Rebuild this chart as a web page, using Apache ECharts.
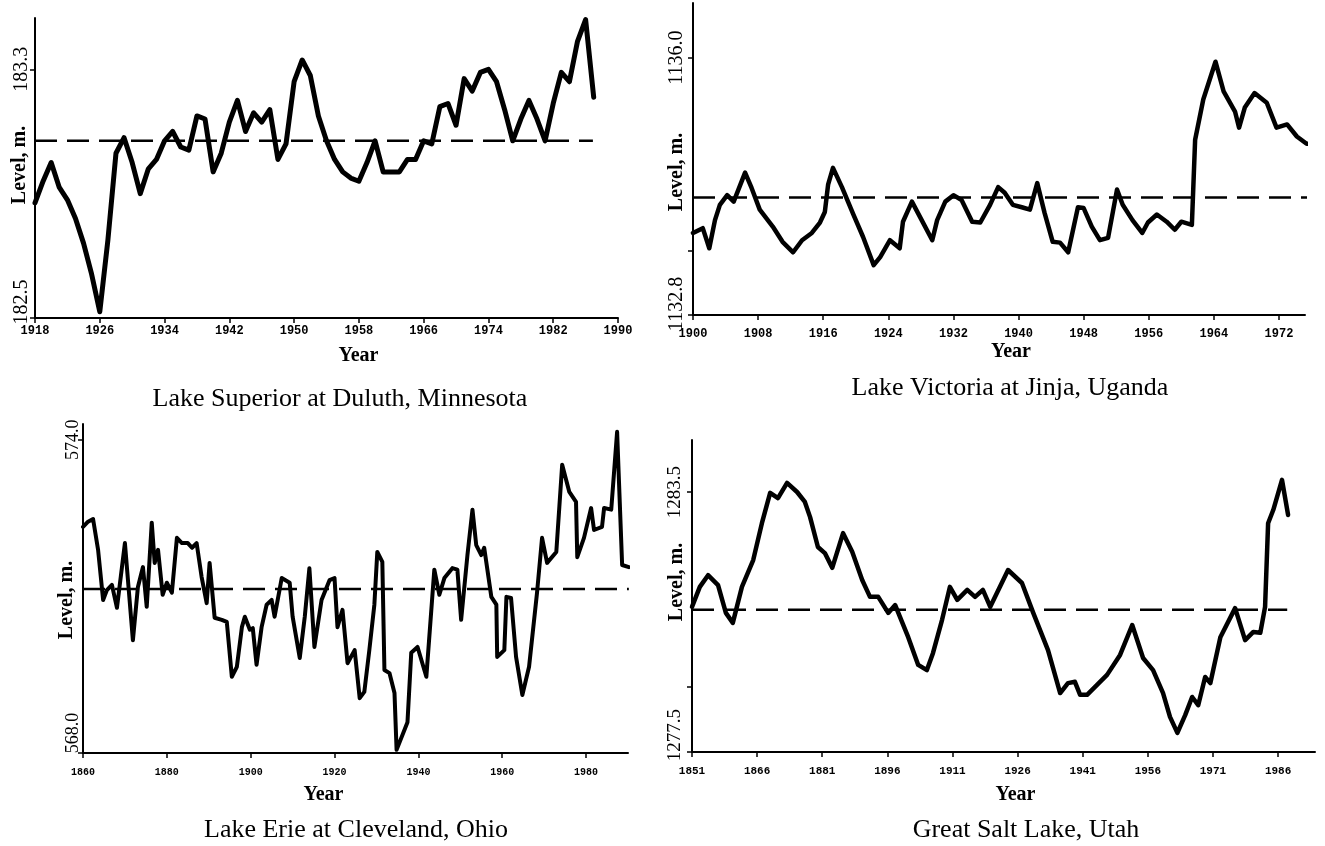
<!DOCTYPE html>
<html><head><meta charset="utf-8">
<script src="https://cdn.jsdelivr.net/npm/echarts@6/dist/echarts.min.js"></script>
<style>html,body{margin:0;padding:0;background:#fff}#c{width:1325px;height:846px}</style>
</head><body><div id="c"></div><script>
// ---------- DATA ----------
// Lake Superior at Duluth (yearly)
const superiorYears = [1918,1919,1920,1921,1922,1923,1924,1925,1926,1927,
  1928,1929,1930,1931,1932,1933,1934,1935,1936,1937,
  1938,1939,1940,1941,1942,1943,1944,1945,1946,1947,
  1948,1949,1950,1951,1952,1953,1954,1955,1956,1957,
  1958,1959,1960,1961,1962,1963,1964,1965,1966,1967,
  1968,1969,1970,1971,1972,1973,1974,1975,1976,1977,
  1978,1979,1980,1981,1982,1983,1984,1985,1986,1987];
const superiorLevels = [182.87,182.94,183.00,182.92,182.88,182.82,182.74,182.64,182.52,182.75,
  183.03,183.08,183.00,182.90,182.98,183.01,183.07,183.10,183.05,183.04,
  183.15,183.14,182.97,183.03,183.13,183.20,183.10,183.16,183.13,183.17,
  183.01,183.06,183.26,183.33,183.28,183.15,183.07,183.01,182.97,182.95,
  182.94,183.00,183.07,182.97,182.97,182.97,183.01,183.01,183.07,183.06,
  183.18,183.19,183.12,183.27,183.23,183.29,183.30,183.26,183.17,183.07,
  183.14,183.20,183.14,183.07,183.19,183.29,183.26,183.39,183.46,183.21];
const superiorMean = 183.07;
const superiorMeanSpan = [1918, 1986.9];
const superiorXTicks = [1918,1926,1934,1942,1950,1958,1966,1974,1982,1990];
const superiorYLabels = [182.5, 183.3];
const superiorYTicks = [182.5, 183.3];

// Lake Victoria at Jinja
const victoriaYears = [1900.0,1901.2,1902.0,1902.7,1903.3,1904.2,1905.0,1906.4,1907.2,1908.2,
  1909.8,1911.0,1912.3,1913.4,1914.6,1915.6,1916.2,1916.6,1917.2,1918.3,
  1919.7,1920.9,1922.2,1923.0,1924.2,1925.4,1925.8,1926.9,1928.1,1929.4,
  1930.0,1931.0,1932.0,1933.0,1934.3,1935.3,1936.5,1937.5,1938.3,1939.3,
  1940.4,1941.4,1942.3,1943.2,1944.2,1945.1,1946.1,1947.3,1948.0,1949.0,
  1950.0,1951.0,1952.1,1952.8,1954.0,1955.2,1955.9,1957.0,1958.2,1959.2,
  1960.0,1961.3,1961.7,1962.7,1964.2,1965.2,1966.6,1967.1,1967.8,1969.0,
  1970.5,1971.7,1973.0,1974.2,1975.4,1976.4];
const victoriaLevels = [1133.82,1133.88,1133.63,1133.98,1134.17,1134.29,1134.21,1134.57,1134.38,1134.11,
  1133.90,1133.71,1133.58,1133.73,1133.82,1133.95,1134.08,1134.42,1134.63,1134.39,
  1134.05,1133.77,1133.42,1133.52,1133.73,1133.63,1133.96,1134.21,1133.98,1133.73,
  1133.98,1134.21,1134.29,1134.23,1133.96,1133.95,1134.17,1134.39,1134.32,1134.17,
  1134.14,1134.11,1134.44,1134.07,1133.71,1133.70,1133.58,1134.14,1134.13,1133.90,
  1133.73,1133.76,1134.36,1134.17,1133.98,1133.82,1133.95,1134.05,1133.96,1133.86,
  1133.96,1133.92,1134.98,1135.48,1135.95,1135.58,1135.33,1135.13,1135.38,1135.56,
  1135.44,1135.13,1135.17,1135.02,1134.93,1134.93];
const victoriaMean = 1134.26;
const victoriaMeanSpan = [1900, 1976.2];
const victoriaXTicks = [1900,1908,1916,1924,1932,1940,1948,1956,1964,1972];
const victoriaYLabels = [1132.8, 1136.0];
const victoriaYTicks = [1132.8, 1133.6, 1136.0];

// Lake Erie at Cleveland
const erieYears = [1860.0,1861.2,1862.4,1863.6,1864.8,1865.7,1866.9,1868.1,1870.0,1871.9,
  1873.1,1874.3,1875.2,1876.4,1877.1,1877.9,1879.0,1880.0,1881.2,1882.4,
  1883.6,1885.0,1886.0,1887.1,1888.3,1889.5,1890.2,1891.4,1893.1,1894.3,
  1895.5,1896.7,1897.9,1898.6,1899.8,1900.5,1901.4,1902.6,1903.8,1905.0,
  1905.7,1907.4,1909.3,1910.0,1911.7,1912.9,1914.0,1915.2,1916.9,1918.8,
  1920.0,1920.7,1921.9,1923.1,1924.8,1926.0,1927.1,1928.3,1929.5,1930.2,
  1931.4,1931.9,1933.1,1934.3,1934.8,1937.4,1938.3,1939.8,1941.9,1943.8,
  1945.0,1946.2,1948.1,1949.3,1950.2,1951.7,1952.9,1953.8,1955.0,1955.7,
  1957.4,1958.6,1958.8,1960.5,1961.0,1962.1,1963.3,1964.8,1966.4,1968.3,
  1969.5,1970.7,1972.9,1974.3,1976.0,1977.6,1977.9,1979.5,1981.2,1981.9,
  1983.8,1984.3,1986.0,1987.4,1988.6,1990.2];
const erieLevels = [572.33,572.43,572.48,571.89,570.93,571.12,571.22,570.78,572.02,570.16,
  571.18,571.56,570.80,572.41,571.64,571.89,571.03,571.26,571.07,572.12,
  572.02,572.02,571.93,572.02,571.37,570.87,571.64,570.59,570.55,570.51,
  569.46,569.65,570.41,570.61,570.36,570.39,569.69,570.41,570.84,570.93,
  570.61,571.35,571.26,570.61,569.82,570.61,571.54,570.03,570.93,571.31,
  571.35,570.41,570.74,569.72,569.97,569.05,569.17,569.97,570.84,571.85,
  571.66,569.59,569.53,569.15,568.06,568.59,569.92,570.03,569.46,571.51,
  571.03,571.35,571.54,571.51,570.55,571.79,572.66,571.98,571.79,571.93,
  570.99,570.84,569.84,569.97,570.99,570.97,569.84,569.11,569.65,571.07,
  572.12,571.64,571.85,573.52,573.00,572.81,571.75,572.12,572.69,572.27,
  572.33,572.69,572.66,574.15,571.60,571.56];
const erieMean = 571.14;
const erieMeanSpan = [1860, 1990.2];
const erieXTicks = [1860,1880,1900,1920,1940,1960,1980];
const erieYLabels = [568.0, 574.0];
const erieYTicks = [568.0, 574.0];

// Great Salt Lake
const saltYears = [1851.0,1852.8,1854.7,1857.0,1858.8,1860.4,1862.5,1865.1,1867.1,1869.0,
  1870.8,1872.9,1875.2,1877.0,1878.2,1880.0,1881.6,1883.3,1885.8,1887.9,
  1890.2,1892.0,1893.9,1896.2,1897.8,1900.8,1903.1,1905.1,1906.5,1908.6,
  1910.4,1912.1,1914.4,1916.2,1918.0,1919.7,1923.8,1927.0,1929.6,1933.0,
  1935.8,1937.6,1939.2,1940.4,1942.0,1944.3,1946.6,1949.6,1952.4,1954.9,
  1957.2,1959.5,1961.1,1962.8,1964.6,1966.2,1967.6,1969.2,1970.4,1972.7,
  1976.1,1978.4,1980.3,1981.9,1983.0,1983.7,1984.9,1986.9,1988.3];
const saltLevels = [1280.85,1281.31,1281.58,1281.35,1280.71,1280.48,1281.31,1281.93,1282.78,1283.48,
  1283.36,1283.71,1283.50,1283.27,1282.92,1282.23,1282.09,1281.75,1282.55,1282.12,
  1281.47,1281.08,1281.08,1280.71,1280.89,1280.15,1279.51,1279.39,1279.78,1280.55,
  1281.31,1281.01,1281.24,1281.08,1281.24,1280.85,1281.70,1281.40,1280.71,1279.85,
  1278.86,1279.09,1279.12,1278.82,1278.82,1279.05,1279.28,1279.74,1280.43,1279.67,
  1279.39,1278.86,1278.31,1277.94,1278.35,1278.77,1278.58,1279.23,1279.09,1280.15,
  1280.82,1280.08,1280.27,1280.25,1280.85,1282.78,1283.09,1283.78,1282.97];
const saltMean = 1280.78;
const saltMeanSpan = [1851, 1988.1];
const saltXTicks = [1851,1866,1881,1896,1911,1926,1941,1956,1971,1986];
const saltYLabels = [1277.5, 1283.5];
const saltYTicks = [1277.5, 1279.0, 1283.5];

const captions = ['Lake Superior at Duluth, Minnesota', 'Lake Victoria at Jinja, Uganda',
  'Lake Erie at Cleveland, Ohio', 'Great Salt Lake, Utah'];
const xName = 'Year';
const yName = 'Level, m.';

// ---------- LAYOUT / STYLE ----------
const serif = '"Liberation Serif","Times New Roman",serif';
const mono = '"Liberation Mono","DejaVu Sans Mono",monospace';

const panels = [
  { years: superiorYears, levels: superiorLevels, mean: superiorMean, span: superiorMeanSpan,
    xTicks: superiorXTicks, yLabels: superiorYLabels, yTicks: superiorYTicks,
    box: {left: 35, top: 18, width: 583, height: 300}, xMin: 1918, xMax: 1990, yMin: 182.5, yMax: 183.465,
    xFont: 12, xMargin: 7, yFont: 20, yMargin: 3, minPad: 32, levelGap: 5, levelPad: [0,0,0,6],
    yearGap: 28, yearPad: [0,0,0,64], cap: [335, 381], lw: 5 },
  { years: victoriaYears, levels: victoriaLevels, mean: victoriaMean, span: victoriaMeanSpan,
    xTicks: victoriaXTicks, yLabels: victoriaYLabels, yTicks: victoriaYTicks,
    box: {left: 693, top: 3, width: 612, height: 312}, xMin: 1900, xMax: 1975.2, yMin: 1132.8, yMax: 1136.68,
    xFont: 12, xMargin: 13, yFont: 20, yMargin: 6, minPad: 22, levelGap: 6, levelPad: [0,26,0,0],
    yearGap: 27, yearPad: [0,0,0,24], cap: [1005, 370], lw: 4.5 },
  { years: erieYears, levels: erieLevels, mean: erieMean, span: erieMeanSpan,
    xTicks: erieXTicks, yLabels: erieYLabels, yTicks: erieYTicks,
    box: {left: 83, top: 424, width: 545, height: 329}, xMin: 1860, xMax: 1990, yMin: 568, yMax: 574.3,
    xFont: 10, xMargin: 14, yFont: 18, yMargin: 1, minPad: 40, levelGap: 6, levelPad: [0,23,0,0],
    yearGap: 32, yearPad: [0,64,0,0], cap: [351, 812], lw: 4 },
  { years: saltYears, levels: saltLevels, mean: saltMean, span: saltMeanSpan,
    xTicks: saltXTicks, yLabels: saltYLabels, yTicks: saltYTicks,
    box: {left: 692, top: 440, width: 623, height: 312}, xMin: 1851, xMax: 1994.5, yMin: 1277.5, yMax: 1284.7,
    xFont: 11, xMargin: 14, yFont: 19, yMargin: 7, minPad: 34, levelGap: 5, levelPad: [0,0,0,28],
    yearGap: 33, yearPad: [0,0,0,24], cap: [1021, 812], lw: 4.5 }
];

const grid = [], xAxis = [], yAxis = [], series = [], title = [];
panels.forEach((p, i) => {
  grid.push(Object.assign({containLabel: false, outerBoundsMode: 'none'}, p.box));
  xAxis.push({
    type: 'value', gridIndex: i, min: p.xMin, max: p.xMax,
    name: xName, nameLocation: 'middle', nameGap: p.yearGap, nameMoveOverlap: false,
    nameTextStyle: {fontFamily: serif, fontSize: 20, fontWeight: 'bold', color: '#000', padding: p.yearPad},
    axisLine: {show: true, onZero: false, lineStyle: {color: '#000', width: 2}},
    axisTick: {show: true, customValues: p.xTicks, length: 5, lineStyle: {color: '#000', width: 1.5}},
    axisLabel: {show: true, customValues: p.xTicks, margin: p.xMargin, fontFamily: mono, fontWeight: 'bold',
      fontSize: p.xFont, color: '#000', formatter: v => String(v)},
    splitLine: {show: false}
  });
  const minV = p.yLabels[0];
  yAxis.push({
    type: 'value', gridIndex: i, min: p.yMin, max: p.yMax,
    name: yName, nameLocation: 'middle', nameGap: p.levelGap, nameRotate: 90, nameMoveOverlap: false,
    nameTextStyle: {fontFamily: serif, fontSize: 20, fontWeight: 'bold', color: '#000', padding: p.levelPad},
    axisLine: {show: true, onZero: false, lineStyle: {color: '#000', width: 2}},
    axisTick: {show: true, customValues: p.yTicks, length: 5, lineStyle: {color: '#000', width: 1.5}},
    axisLabel: {show: true, customValues: p.yLabels, rotate: 90, margin: p.yMargin,
      fontFamily: serif, fontSize: p.yFont, color: '#000',
      formatter: v => (Math.abs(v - minV) < 1e-9 ? '{lo|' + v.toFixed(1) + '}' : v.toFixed(1)),
      rich: {lo: {fontFamily: serif, fontSize: p.yFont, color: '#000', padding: [0, 0, 0, p.minPad]}}},
    splitLine: {show: false}
  });
  series.push({
    type: 'line', xAxisIndex: i, yAxisIndex: i, clip: false, silent: true,
    data: p.years.map((y, k) => [y, p.levels[k]]),
    showSymbol: false, symbol: 'none',
    lineStyle: {color: '#000', width: p.lw, join: 'round', cap: 'round'}
  });
  series.push({
    type: 'line', xAxisIndex: i, yAxisIndex: i, clip: false, silent: true,
    data: [[p.span[0], p.mean], [p.span[1], p.mean]],
    showSymbol: false, symbol: 'none',
    lineStyle: {color: '#000', width: 2.5, type: [22, 10]}
  });
  title.push({
    text: captions[i], left: p.cap[0], top: p.cap[1], textAlign: 'center',
    textStyle: {fontFamily: serif, fontSize: 26, fontWeight: 'normal', color: '#000'}
  });
});

const chart = echarts.init(document.getElementById('c'), null, {renderer: 'canvas', width: 1325, height: 846});
chart.setOption({
  animation: false, backgroundColor: '#fff',
  title, grid, xAxis, yAxis, series
});
</script></body></html>
